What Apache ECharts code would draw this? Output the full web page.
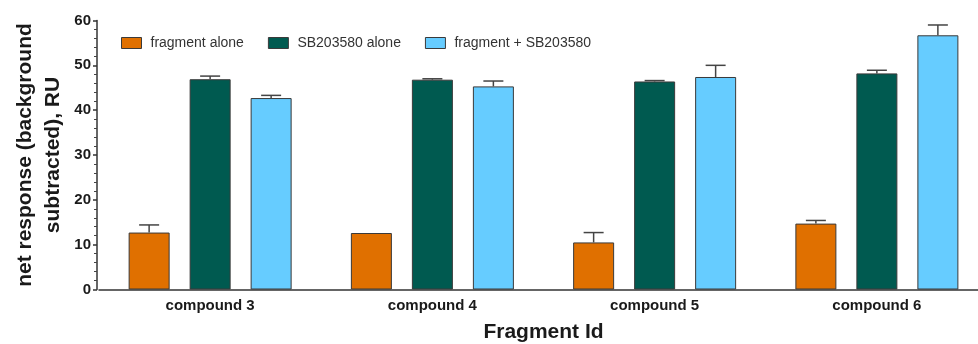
<!DOCTYPE html>
<html>
<head>
<meta charset="utf-8">
<script src="https://cdn.jsdelivr.net/npm/echarts@6/dist/echarts.min.js"></script>
<style>html,body{margin:0;padding:0;background:#fff}#c{width:978px;height:344px}</style>
</head>
<body>
<div id="c"></div>
<script>
const categories = ['compound 3', 'compound 4', 'compound 5', 'compound 6'];
const seriesNames = ['fragment alone', 'SB203580 alone', 'fragment + SB203580'];
const fragmentAlone = [12.7, 12.6, 10.5, 14.7];
const fragmentAloneErr = [1.7, 0, 2.2, 0.7];
const sbAlone = [46.9, 46.8, 46.4, 48.2];
const sbAloneErr = [0.7, 0.2, 0.2, 0.7];
const combined = [42.7, 45.3, 47.4, 56.7];
const combinedErr = [0.6, 1.2, 2.6, 2.3];
const yTicks = [0, 10, 20, 30, 40, 50, 60];

const colors = ['#E07000', '#005A50', '#66CCFF'];
const BAR_W = 41, BAR_GAP = 20;
const values = [fragmentAlone, sbAlone, combined];
const errs = [fragmentAloneErr, sbAloneErr, combinedErr];

const chart = echarts.init(document.getElementById('c'));
const bars = seriesNames.map((n, i) => ({
  name: n, type: 'bar', data: values[i], barWidth: BAR_W,
  barGap: (BAR_GAP / BAR_W * 100) + '%',
  itemStyle: { color: colors[i], borderColor: '#3a3a3a', borderWidth: 1 },
  z: 2
}));
const errSeries = seriesNames.map((n, si) => ({
  type: 'custom', z: 3, silent: true,
  data: values[si].map((v, i) => [i, v, errs[si][i]]),
  renderItem: function (params, api) {
    const idx = api.value(0), v = api.value(1), e = api.value(2);
    if (!e) return null;
    const off = (si - 1) * (BAR_W + BAR_GAP);
    const base = api.coord([idx, v]);
    const top = api.coord([idx, v + e]);
    const x = base[0] + off;
    const st = { stroke: '#444', lineWidth: 1.5 };
    return { type: 'group', children: [
      { type: 'line', shape: { x1: x, y1: base[1], x2: x, y2: top[1] }, style: st },
      { type: 'line', shape: { x1: x - 10, y1: top[1], x2: x + 10, y2: top[1] }, style: st }
    ]};
  }
}));

chart.setOption({
  animation: false,
  grid: { left: 99, right: -10, top: 20.5, bottom: 54.5, containLabel: false, outerBoundsMode: 'none' },
  legend: {
    data: seriesNames, left: 116, top: 31, itemWidth: 20, itemHeight: 11, itemGap: 24,
    icon: 'rect',
    itemStyle: { borderColor: '#3a3a3a', borderWidth: 1 },
    textStyle: { fontFamily: 'Liberation Sans, Arial', fontSize: 14, color: '#333', padding: [0, 0, 0, 4] }
  },
  xAxis: {
    type: 'category', data: categories,
    name: 'Fragment Id', nameLocation: 'middle', nameGap: 32, nameMoveOverlap: false,
    nameTextStyle: { fontFamily: 'Liberation Sans, Arial', fontSize: 21, fontWeight: 'bold', color: '#1a1a1a' },
    axisLine: { lineStyle: { color: '#333', width: 1.5 } },
    axisTick: { show: false },
    axisLabel: { fontFamily: 'Liberation Sans, Arial', fontSize: 15, fontWeight: 'bold', color: '#1a1a1a', margin: 9 }
  },
  yAxis: {
    type: 'value', min: yTicks[0], max: yTicks[yTicks.length - 1], interval: 10, offset: 2,
    name: 'net response (background\nsubtracted), RU', nameLocation: 'middle', nameGap: 30, nameMoveOverlap: false,
    nameTextStyle: { fontFamily: 'Liberation Sans, Arial', fontSize: 21, fontWeight: 'bold', color: '#1a1a1a', lineHeight: 28 },
    axisLine: { show: true, lineStyle: { color: '#333', width: 1.5 } },
    axisTick: { show: true, length: 4, lineStyle: { color: '#333', width: 1.5 } },
    minorTick: { show: true, splitNumber: 5, length: 3, lineStyle: { color: '#444', width: 1 } },
    splitLine: { show: false },
    axisLabel: { fontFamily: 'Liberation Sans, Arial', fontSize: 15, fontWeight: 'bold', color: '#1a1a1a', margin: 6,
      formatter: v => yTicks.includes(v) ? String(v) : '' }
  },
  series: bars.concat(errSeries)
});
</script>
</body>
</html>
